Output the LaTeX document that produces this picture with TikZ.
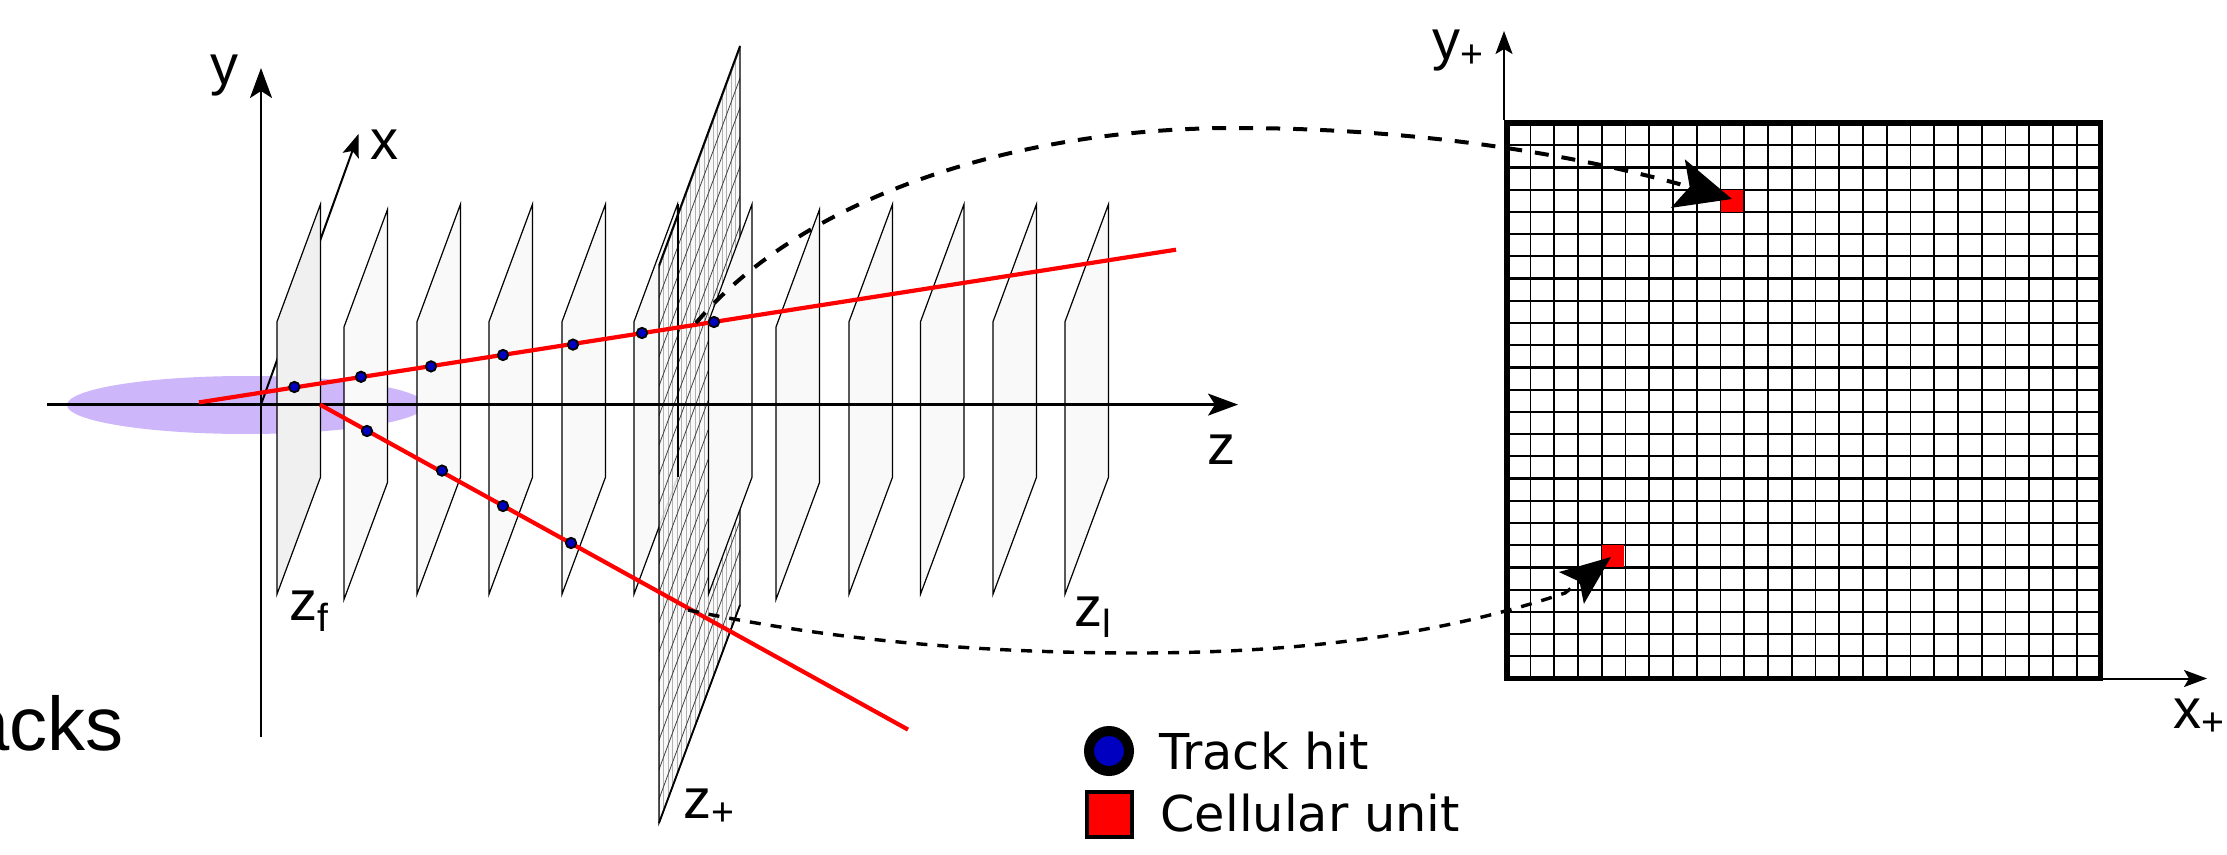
\documentclass[tikz,border=0pt]{standalone}
\usepackage{fontspec}
\setmainfont{Liberation Sans}
\newfontfamily\legendfont{DejaVu Sans}
\usetikzlibrary{arrows.meta}
\definecolor{planefill}{HTML}{F9F9F9}
\definecolor{firstfill}{HTML}{F0F0F0}
\definecolor{hitblue}{HTML}{0000C0}
\definecolor{beam}{HTML}{CDB7FA}
\tikzset{
  plane/.style={draw=black,line width=0.6pt,fill=planefill},
  axis/.style={draw=black,line width=1.2pt},
  bighead/.style={-{Stealth[length=15pt,width=11pt,inset=3.5pt]}},
  smallhead/.style={-{Stealth[length=11.5pt,width=8.5pt,inset=2.5pt]}},
  track/.style={draw=red,line width=2.1pt},
  hit/.style={circle,draw=black,fill=hitblue,line width=0.9pt,minimum size=5.2pt,inner sep=0pt},
  mapcurve/.style={draw=black,line width=2pt,dash pattern=on 7pt off 6.5pt},
  mapcurvelow/.style={draw=black,line width=1.7pt,dash pattern=on 5.5pt off 5pt},
  cell/.style={fill=red,draw=none},
  lab/.style={inner sep=0pt,font=\fontsize{28}{28}\selectfont},
  leg/.style={inner sep=0pt,anchor=base west,font=\legendfont\fontsize{24.7}{24.7}\selectfont},
}
\newcommand{\planeat}[4]{%
  \filldraw[#4] (#1,#2) -- (#1+43.5,#2-117.5) -- (#1+43.5,#2+155.5) -- (#1,#2+272.5) -- cycle;}
\begin{document}
\begin{tikzpicture}[x=0.5pt,y=-0.5pt]
\useasboundingbox (0,0) rectangle (2227,855);
\fill[white] (0,0) rectangle (2227,855);
% beam
\fill[beam] (246,405) ellipse [x radius=89.5pt,y radius=14.5pt];
% coordinates
\coordinate (O) at (261,404.6);
\coordinate (xtip) at (358.5,134);
\coordinate (ybot) at (261,737);
\coordinate (ytip) at (261,68);
\coordinate (zbot) at (47,404.6);
\coordinate (ztip) at (1238,404.6);
\draw[axis,line width=1pt,smallhead] (O) -- (xtip);
% planes
\planeat{277}{321.7}{}{plane,fill=firstfill}
\planeat{344}{327}{}{plane}
\planeat{417}{321.7}{}{plane}
\planeat{489}{321.7}{}{plane}
\planeat{562}{321.7}{}{plane}
\planeat{634}{321.7}{}{plane}
% hatched plane
\begin{scope}
  \clip (659,265.5) -- (740,46) -- (740,605) -- (659,823) -- cycle;
  \fill[planefill,opacity=0.85] (650,30) rectangle (750,830);
  \foreach \v in {0,...,18}
    \draw[black!30,line width=0.3pt] ({659+\v*4.5},30) -- ({659+\v*4.5},830);
  \foreach \k in {0,...,26}
    \draw[black!75,line width=0.4pt] (640,{290+\k*29.5}) -- +(120,-325);
\end{scope}
\draw[plane,fill=none] (740,46) -- (740,605) -- (659,823) -- (659,265.5);
\draw[line width=0.9pt] (659,265.5) -- (740,46);
\draw[line width=0.9pt] (740,605) -- (659,823);
\draw[line width=0.8pt] (678,204.2) -- (678,476.7);
\planeat{708.5}{321.7}{}{plane}
\planeat{776}{327}{}{plane}
\planeat{849}{321.7}{}{plane}
\planeat{920.5}{321.7}{}{plane}
\planeat{993}{321.7}{}{plane}
\planeat{1065}{321.7}{}{plane}
\draw[axis,bighead] (zbot) -- (ztip);
\draw[axis,bighead] (ybot) -- (ytip);
% tracks
\coordinate (t1a) at (199,402.4);
\coordinate (t1b) at (1176,249.7);
\coordinate (t2a) at (320,404.6);
\coordinate (t2b) at (908,729.6);
\draw[track] (t1a) -- (t1b);
\draw[track] (t2a) -- (t2b);
\foreach \n/\x/\y in {a/294.4/387,b/361/376.8,c/431/366.4,d/503/355,e/573/344.6,f/642/333,g/714/322,h/367/431,i/442/470.6,j/503/506,k/571/543}
  \node[hit] (hit\n) at (\x,\y) {};
% grid
\foreach \c in {1,...,24}
  \draw[line width=0.95pt] ({1506.7+\c*23.752},123) -- ({1506.7+\c*23.752},678.5);
\foreach \r in {1,...,24}
  \draw[line width=1.1pt] (1506.7,{123+\r*22.22}) -- (2100.5,{123+\r*22.22});
\fill[cell] (1720.5,189.7) rectangle (1743.3,212.4);
\fill[cell] (1601.7,545.2) rectangle (1624.4,567.4);
\node[draw=black,line width=2.8pt,minimum width=296.9pt,minimum height=277.75pt,inner sep=0pt,outer sep=0pt,anchor=north west] (grid) at (1506.7,123) {};
\coordinate (ypa) at (1504,120);
\coordinate (ypb) at (1504,31);
\coordinate (xpa) at (2103,678.5);
\coordinate (xpb) at (2207,678.5);
\draw[axis,line width=1pt,smallhead] (ypa) -- (ypb);
\draw[axis,line width=1pt,smallhead] (xpa) -- (xpb);
% mapping curves
\coordinate (c1a) at (696,323);
\coordinate (c1m) at (1235,128);
\coordinate (c1b) at (1732,199);
\coordinate (c2a) at (688,610);
\coordinate (c2m) at (1136,653);
\coordinate (c2j) at (1565,593);
\coordinate (c2b) at (1611,557);
\draw[mapcurve,-{Stealth[length=28pt,width=25pt,inset=6pt]}] (c1a) .. controls (800,200) and (1010,128) .. (c1m) .. controls (1400,128) and (1560,150) .. (c1b);
\draw[mapcurvelow,-{Stealth[length=25pt,width=20pt,inset=5pt]}] (c2a) .. controls (830,640) and (980,653) .. (c2m) .. controls (1340,653) and (1470,625) .. (c2j) -- (c2b);
% labels
\node[lab,anchor=base] (ly) at (224,85) {y};
\node[lab,anchor=base] (lx) at (384,160) {x};
\node[lab,anchor=base] (lz) at (1221,465) {z};
\node[lab,anchor=base west] (lzf) at (289,620) {z\textsubscript{f}};
\node[lab,anchor=base west] (lzl) at (1074,626) {z\textsubscript{l}};
\node[lab,anchor=base west] (lzp) at (683,818) {z\textsubscript{+}};
\node[lab,anchor=base west] (lyp) at (1432,60) {y\textsubscript{+}};
\node[lab,anchor=base west] (lxp) at (2173,728) {x\textsubscript{+}};
\node[inner sep=0pt,anchor=base east,font=\fontsize{38}{38}\selectfont] (tr) at (124,750) {acks};
% legend
\node[circle,draw=black,line width=5pt,fill=hitblue,minimum width=20pt,inner sep=0pt] (lhit) at (1109,751) {};
\node[draw=black,line width=2pt,fill=red,minimum size=22.5pt,inner sep=0pt] (lcell) at (1109,814.5) {};
\node[leg] (lt1) at (1159,769) {Track hit};
\node[leg] (lt2) at (1160,831) {Cellular unit};
\end{tikzpicture}
\end{document}
